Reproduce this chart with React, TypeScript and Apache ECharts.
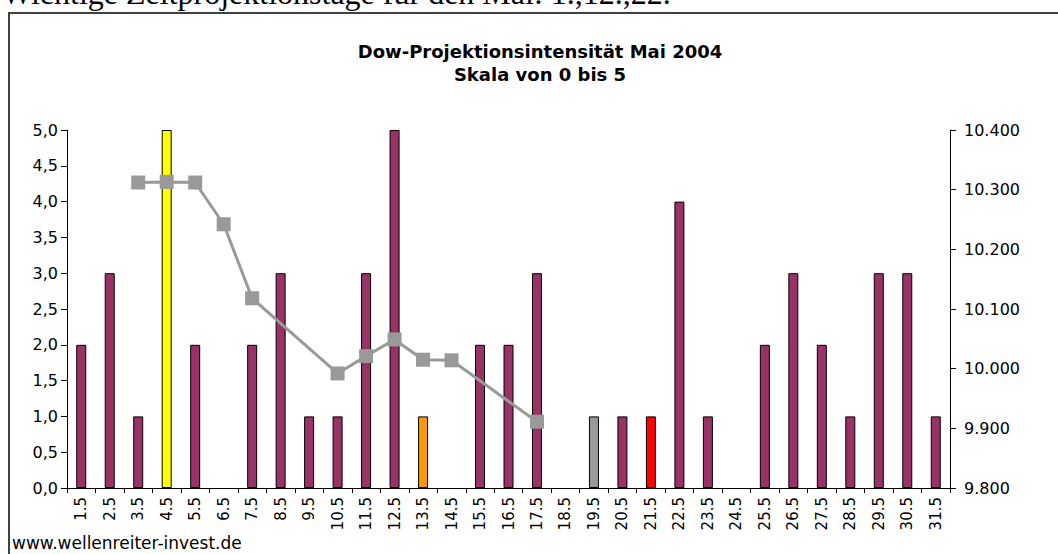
import React, { useEffect, useRef } from "react";
import * as echarts from "echarts";

const headerText = "Wichtige Zeitprojektionstage für den Mai: 1.,12.,22.";
const titleLine1 = "Dow-Projektionsintensität Mai 2004";
const titleLine2 = "Skala von 0 bis 5";
const watermark = "www.wellenreiter-invest.de";

const days = [
  "1.5", "2.5", "3.5", "4.5", "5.5", "6.5", "7.5", "8.5", "9.5", "10.5",
  "11.5", "12.5", "13.5", "14.5", "15.5", "16.5", "17.5", "18.5", "19.5", "20.5",
  "21.5", "22.5", "23.5", "24.5", "25.5", "26.5", "27.5", "28.5", "29.5", "30.5", "31.5",
];
const intensity = [
  2, 3, 1, 5, 2, 0, 2, 3, 1, 1,
  3, 5, 1, 0, 2, 2, 3, 0, 1, 1,
  1, 4, 1, 0, 2, 3, 2, 1, 3, 3, 1,
];
const barColors = [
  "#993366", "#993366", "#993366", "#FFFF00", "#993366", "#993366", "#993366", "#993366", "#993366", "#993366",
  "#993366", "#993366", "#FF9900", "#993366", "#993366", "#993366", "#993366", "#993366", "#999999", "#993366",
  "#FF0000", "#993366", "#993366", "#993366", "#993366", "#993366", "#993366", "#993366", "#993366", "#993366", "#993366",
];
const dow: (number | null)[] = [
  null, null, 10312, 10313, 10312, 10242, 10118, null, null, 9992,
  10021, 10049, 10015, 10014, null, null, 9911, null, null, null,
  null, null, null, null, null, null, null, null, null, null, null,
];
const leftTicks = { min: 0, max: 5, interval: 0.5 };
const rightTicks = { min: 9800, max: 10400, interval: 100 };

const FONT = "'DejaVu Sans', 'Liberation Sans', Arial, sans-serif";

export default function App() {
  const ref = useRef<HTMLDivElement>(null);
  useEffect(() => {
    if (!ref.current) return;
    const chart = echarts.init(ref.current, undefined, { renderer: "svg" });
    chart.setOption({
      animation: false,
      backgroundColor: "#ffffff",
      grid: { left: 67, right: 108, top: 130, bottom: 66, containLabel: false },
      graphic: [
        {
          type: "rect",
          shape: { x: 9, y: 13, width: 1200, height: 700 },
          style: { fill: "none", stroke: "#404040", lineWidth: 2 },
          silent: true,
        },
        {
          type: "text",
          x: 2,
          y: -7,
          style: {
            text: headerText,
            font: "32px 'Liberation Serif', 'Times New Roman', serif",
            fill: "#000",
            verticalAlign: "middle",
            align: "left",
          },
        },
        {
          type: "text",
          x: 540,
          y: 51,
          style: {
            text: titleLine1,
            font: `bold 18px ${FONT}`,
            fill: "#000",
            align: "center",
            verticalAlign: "middle",
          },
        },
        {
          type: "text",
          x: 540,
          y: 74,
          style: {
            text: titleLine2,
            font: `bold 18px ${FONT}`,
            fill: "#000",
            align: "center",
            verticalAlign: "middle",
          },
        },
        {
          type: "text",
          x: 12,
          y: 543,
          style: {
            text: watermark,
            font: `17px ${FONT}`,
            fill: "#000",
            align: "left",
            verticalAlign: "middle",
          },
        },
      ],
      xAxis: {
        type: "category",
        data: days,
        boundaryGap: true,
        axisLine: { show: true, lineStyle: { color: "#000", width: 1 } },
        axisTick: { show: true, interval: 0, length: 5, lineStyle: { color: "#000" } },
        axisLabel: {
          interval: 0,
          rotate: 90,
          margin: 9,
          color: "#000",
          fontFamily: FONT,
          fontSize: 15,
        },
        splitLine: { show: false },
      },
      yAxis: [
        {
          type: "value",
          position: "left",
          min: leftTicks.min,
          max: leftTicks.max,
          interval: leftTicks.interval,
          axisLine: { show: true, lineStyle: { color: "#000", width: 1 } },
          axisTick: { show: true, length: 6, lineStyle: { color: "#000" } },
          splitLine: { show: false },
          axisLabel: {
            color: "#000",
            fontFamily: FONT,
            fontSize: 16,
            margin: 9,
            formatter: (v: number) => v.toFixed(1).replace(".", ","),
          },
        },
        {
          type: "value",
          position: "right",
          min: rightTicks.min,
          max: rightTicks.max,
          interval: rightTicks.interval,
          axisLine: { show: true, lineStyle: { color: "#000", width: 1 } },
          axisTick: { show: true, length: 6, lineStyle: { color: "#000" } },
          splitLine: { show: false },
          axisLabel: {
            color: "#000",
            fontFamily: FONT,
            fontSize: 16,
            margin: 14,
            formatter: (v: number) => {
              const s = String(Math.round(v));
              return s.replace(/\B(?=(\d{3})+(?!\d))/g, ".");
            },
          },
        },
      ],
      series: [
        {
          type: "bar",
          yAxisIndex: 0,
          barWidth: 10,
          data: intensity.map((v, i) => ({
            value: v,
            itemStyle: {
              color: barColors[i],
              borderColor: "#000",
              borderWidth: v > 0 ? 1 : 0,
              opacity: v > 0 ? 1 : 0,
            },
          })),
        },
        {
          type: "line",
          yAxisIndex: 1,
          data: dow,
          connectNulls: true,
          symbol: "rect",
          symbolSize: 14,
          itemStyle: { color: "#999999" },
          lineStyle: { color: "#999999", width: 3 },
          z: 3,
        },
      ],
    });
    return () => chart.dispose();
  }, []);
  return (
    <div
      ref={ref}
      style={{ position: "fixed", left: 0, top: 0, width: 1058, height: 554, background: "#fff" }}
    />
  );
}
